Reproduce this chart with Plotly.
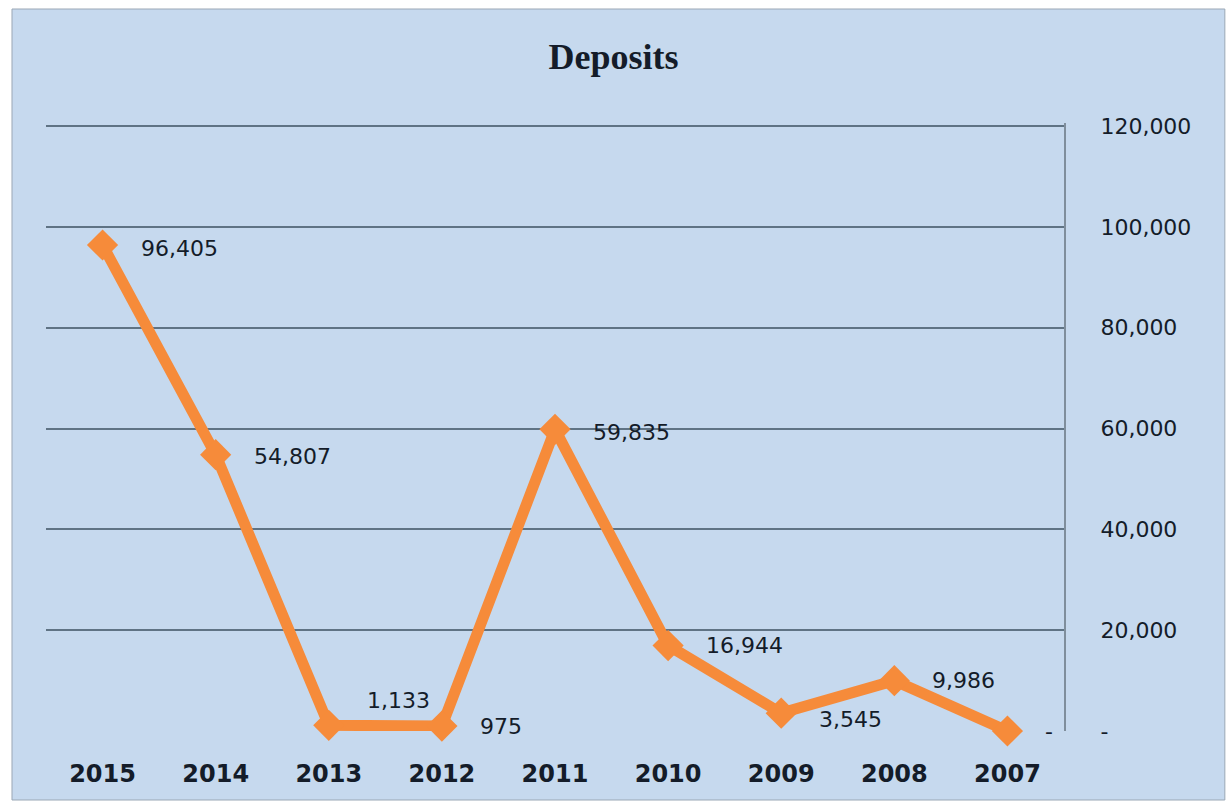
import plotly.graph_objects as go

# Deposits by year, newest first
years = ["2015", "2014", "2013", "2012", "2011", "2010", "2009", "2008", "2007"]
deposits = [96405, 54807, 1133, 975, 59835, 16944, 3545, 9986, 0]

# Right-hand value axis
y_ticks = [0, 20000, 40000, 60000, 80000, 100000, 120000]
y_tick_text = ["-", "20,000", "40,000", "60,000", "80,000", "100,000", "120,000"]

# vertical nudge (px) for each point label
label_lift = [-4, -2, 25, 0, -3, 0, -6, 0, 0]

orange = "#f68b3a"
panel_blue = "#c6d9ee"
grid = "#5f7384"
ink = "#141c29"

fig = go.Figure()
fig.add_trace(go.Scatter(
    x=years, y=deposits, mode="lines+markers",
    line=dict(color=orange, width=11),
    marker=dict(symbol="diamond", size=24, color=orange),
    cliponaxis=False, hoverinfo="skip",
))

def fmt(v):
    return "-" if v == 0 else f"{v:,}"

# labels placed by category index so they share the trace's x positions
for i, (v, lift) in enumerate(zip(deposits, label_lift)):
    fig.add_annotation(
        x=i, y=v, text=fmt(v), showarrow=False,
        xanchor="left", yanchor="middle", xshift=36, yshift=lift,
        font=dict(family="DejaVu Sans", size=22, color=ink),
    )

fig.update_layout(
    width=1227, height=803,
    margin=dict(l=46, r=163, t=123, b=72),
    paper_bgcolor="white",
    plot_bgcolor="rgba(0,0,0,0)",
    showlegend=False,
    title=dict(
        text="<b>Deposits</b>", x=0.5, xanchor="center", y=0.93, yanchor="middle",
        font=dict(family="Liberation Serif", size=36, color=ink),
    ),
    shapes=[dict(
        type="rect", xref="paper", yref="paper", layer="below",
        x0=-0.0334, x1=1.158, y0=-0.1135, y1=1.1875,
        fillcolor=panel_blue, line=dict(color="#9aa7b5", width=1),
    )],
    xaxis=dict(
        type="category", categoryorder="array", categoryarray=years,
        range=[-0.5, len(years) - 0.5],
        showgrid=False, zeroline=False, showline=False,
        ticks="", ticklabelstandoff=26,
        tickfont=dict(family="DejaVu Sans", size=24, color=ink, weight="bold"),
    ),
    yaxis=dict(
        side="right", range=[0, 120600], tickvals=y_ticks, ticktext=y_tick_text,
        showgrid=True, gridcolor=grid, gridwidth=2, zeroline=False,
        showline=True, linecolor="#7f8e9c", linewidth=2,
        ticks="", ticklabelstandoff=30,
        tickfont=dict(family="DejaVu Sans", size=22, color=ink),
    ),
)

fig.write_html("out.html")
